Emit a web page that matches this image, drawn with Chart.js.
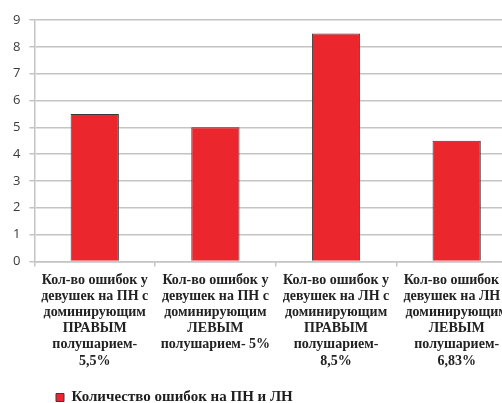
<!DOCTYPE html>
<html>
<head>
<meta charset="utf-8">
<script src="https://cdn.jsdelivr.net/npm/chart.js@4"></script>
<style>
    html, body { margin: 0; padding: 0; background: #fff; overflow: hidden; }
    #wrap { width: 530px; height: 415px; position: relative; }
</style>
</head>
<body>
<div id="wrap"><canvas id="errorsChart"></canvas></div>
<script>
// Chart data
const categories = [
    ['Кол-во ошибок у', 'девушек на ПН с', 'доминирующим', 'ПРАВЫМ', 'полушарием-', '5,5%'],
    ['Кол-во ошибок у', 'девушек на ПН с', 'доминирующим', 'ЛЕВЫМ', 'полушарием- 5%'],
    ['Кол-во ошибок у', 'девушек на ЛН с', 'доминирующим', 'ПРАВЫМ', 'полушарием-', '8,5%'],
    ['Кол-во ошибок у', 'девушек на ЛН с', 'доминирующим', 'ЛЕВЫМ', 'полушарием-', '6,83%']
];
const errorCounts = [5.5, 5, 8.5, 4.5];
const seriesName = 'Количество ошибок на ПН и ЛН';
const yTicks = [0, 1, 2, 3, 4, 5, 6, 7, 8, 9];

const gridColor = '#c4c4c4';

// shift the legend to the right, like in the original sheet
const legendShift = {
    id: 'legendShift',
    afterLayout(chart) {
        chart.legend.left += 42;
        chart.legend.right += 42;
    }
};

const ctx = document.getElementById('errorsChart').getContext('2d');
const chart = new Chart(ctx, {
    type: 'bar',
    data: {
        labels: categories,
        datasets: [
            {
                label: seriesName,
                data: errorCounts,
                backgroundColor: '#ec262d',
                borderColor: '#3a3a3a',
                borderWidth: 1,
                categoryPercentage: 1,
                barPercentage: 0.4
            }
        ]
    },
    options: {
        responsive: true,
        maintainAspectRatio: false,
        animation: false,
        layout: {
            padding: { top: 20, left: 4, right: 13, bottom: 0 }
        },
        scales: {
            x: {
                afterFit: axis => { axis.height += 5; },
                grid: {
                    drawOnChartArea: false,
                    color: gridColor,
                    lineWidth: 1.5,
                    tickLength: 5
                },
                border: { color: gridColor, width: 1.5 },
                ticks: {
                    autoSkip: false,
                    maxRotation: 0,
                    minRotation: 0,
                    padding: 6,
                    color: '#222',
                    font: { family: 'Liberation Serif', size: 14, weight: 'bold', lineHeight: 1.15 }
                }
            },
            y: {
                min: 0,
                max: 9,
                afterBuildTicks: axis => {
                    axis.ticks = yTicks.map(v => ({ value: v }));
                },
                grid: {
                    color: gridColor,
                    lineWidth: 1.5,
                    tickLength: 5
                },
                border: { color: gridColor, width: 1.5 },
                ticks: {
                    padding: 9,
                    color: '#3a3a3a',
                    font: { family: 'Open Sans', size: 13 }
                }
            }
        },
        plugins: {
            legend: {
                position: 'bottom',
                align: 'start',
                labels: {
                    boxWidth: 8,
                    boxHeight: 8,
                    padding: 10,
                    color: '#1e1e1e',
                    font: { family: 'Liberation Serif', size: 15, weight: 'bold' }
                }
            },
            tooltip: { enabled: false }
        }
    },
    plugins: [legendShift]
});
</script>
</body>
</html>
